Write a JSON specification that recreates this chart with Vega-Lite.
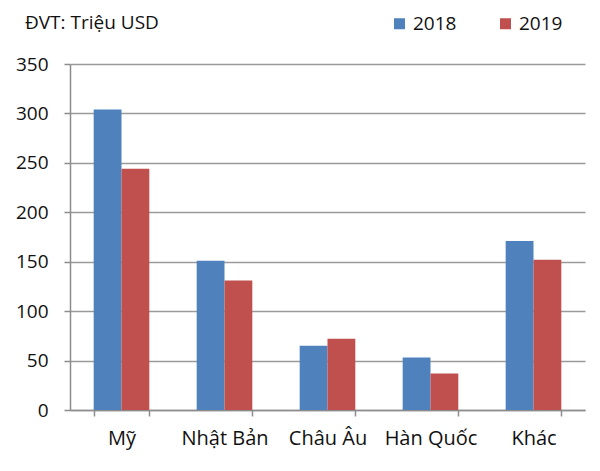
{
  "$schema": "https://vega.github.io/schema/vega-lite/v6.json",
  "width": 515,
  "height": 346,
  "autosize": "none",
  "padding": {"left": 70, "top": 64, "right": 15, "bottom": 61},
  "background": "white",
  "title": {
    "text": "ĐVT: Triệu USD",
    "anchor": "start",
    "frame": "group",
    "dx": -45,
    "offset": -19,
    "font": "Open Sans",
    "fontSize": 19,
    "fontWeight": "normal",
    "color": "#111111"
  },
  "data": {
    "values": [
      {"region": "Mỹ", "year": "2018", "value": 304},
      {"region": "Mỹ", "year": "2019", "value": 244},
      {"region": "Nhật Bản", "year": "2018", "value": 151},
      {"region": "Nhật Bản", "year": "2019", "value": 131},
      {"region": "Châu Âu", "year": "2018", "value": 65},
      {"region": "Châu Âu", "year": "2019", "value": 72},
      {"region": "Hàn Quốc", "year": "2018", "value": 53},
      {"region": "Hàn Quốc", "year": "2019", "value": 37},
      {"region": "Khác", "year": "2018", "value": 171},
      {"region": "Khác", "year": "2019", "value": 152}
    ]
  },
  "mark": {"type": "bar"},
  "encoding": {
    "x": {
      "field": "region",
      "type": "nominal",
      "sort": ["Mỹ", "Nhật Bản", "Châu Âu", "Hàn Quốc", "Khác"],
      "scale": {"paddingInner": 0.46, "paddingOuter": 0.23},
      "axis": {
        "title": null,
        "labelAngle": 0,
        "labelFont": "Open Sans",
        "labelFontSize": 20,
        "labelColor": "#111111",
        "labelPadding": 12,
        "tickBand": "extent",
        "tickSize": 6,
        "tickColor": "#8c8c8c",
        "domainColor": "#8c8c8c",
        "domainWidth": 1.5,
        "tickWidth": 1.5
      }
    },
    "xOffset": {"field": "year", "type": "nominal", "scale": {"paddingInner": 0}},
    "y": {
      "field": "value",
      "type": "quantitative",
      "scale": {"domain": [0, 350]},
      "axis": {
        "title": null,
        "values": [0, 50, 100, 150, 200, 250, 300, 350],
        "labelFont": "Open Sans",
        "labelFontSize": 19,
        "labelColor": "#111111",
        "labelPadding": 16,
        "tickSize": 6,
        "tickColor": "#8c8c8c",
        "domainColor": "#8c8c8c",
        "domainWidth": 1.5,
        "tickWidth": 1.5,
        "gridColor": "#9a9a9a",
        "gridWidth": 1.5
      }
    },
    "color": {
      "field": "year",
      "type": "nominal",
      "scale": {"domain": ["2018", "2019"], "range": ["#4F81BD", "#C0504D"]},
      "legend": {
        "title": null,
        "orient": "none",
        "legendX": 320,
        "legendY": -50,
        "direction": "horizontal",
        "symbolType": "square",
        "symbolSize": 121,
        "symbolStrokeWidth": 0,
        "labelFont": "Open Sans",
        "labelFontSize": 19,
        "labelColor": "#111111",
        "labelOffset": 4,
        "columnPadding": 39
      }
    }
  },
  "config": {
    "view": {"stroke": null}
  }
}
